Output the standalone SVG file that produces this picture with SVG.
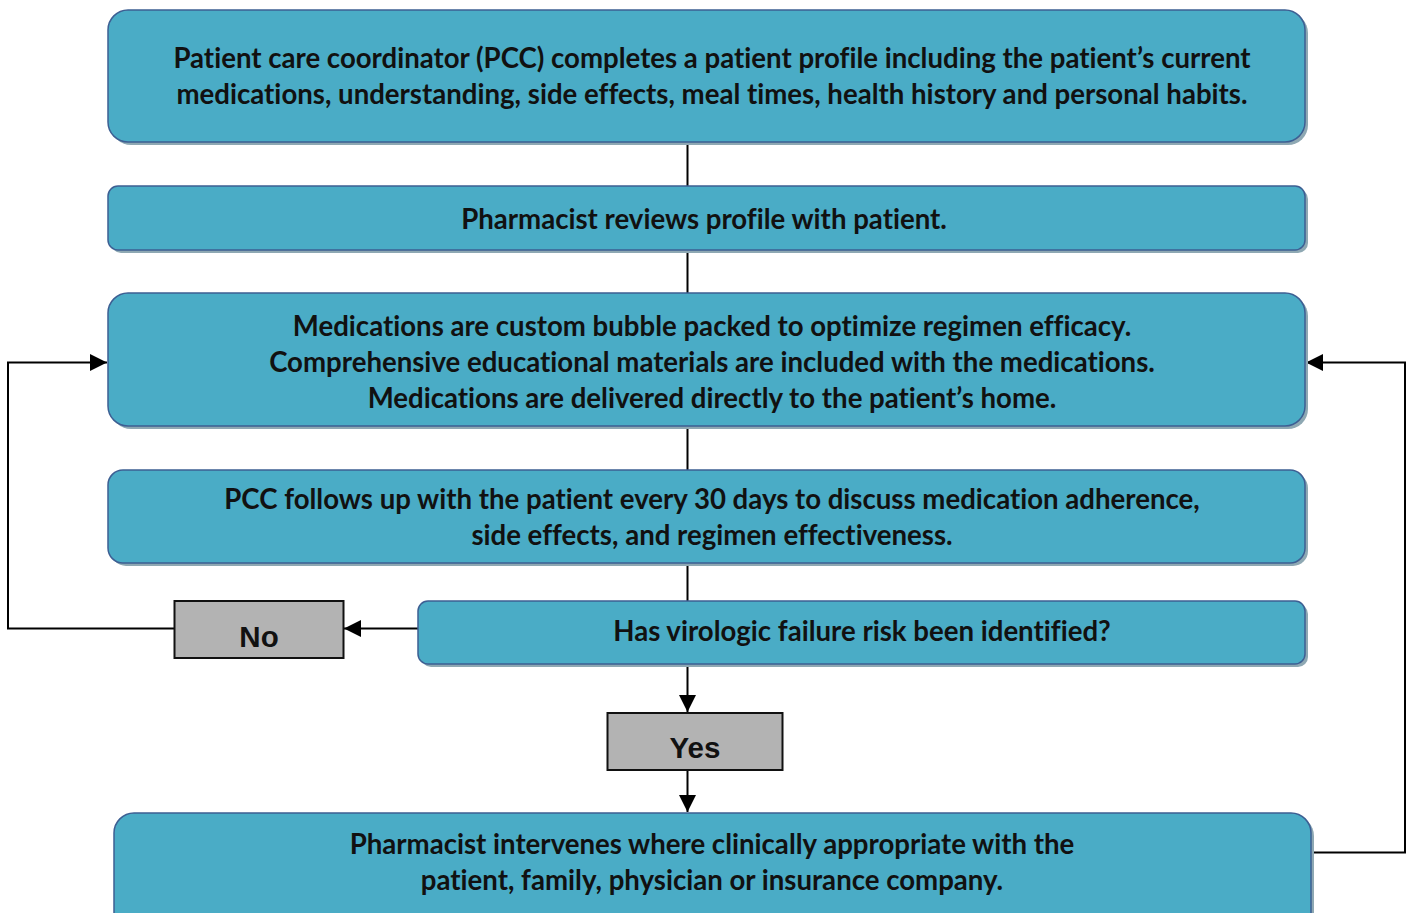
<svg xmlns="http://www.w3.org/2000/svg" width="1409" height="913" viewBox="0 0 1409 913">
<defs>
<style>
.box{fill:#4aacc6;stroke:#3d5f93;stroke-width:1.5}
.sh{fill:#8ea8b3}
.gray{fill:#b3b3b3;stroke:#111;stroke-width:2}
.t{font-family:Lato,"Liberation Sans",sans-serif;font-weight:bold;font-size:27.6px;fill:#111;text-anchor:middle;font-variant-ligatures:none}
.a{font-family:"Liberation Sans",Arial,sans-serif;font-weight:bold;font-size:29.5px;fill:#111;text-anchor:middle}
.c{fill:none;stroke:#000;stroke-width:2}
</style>
<marker id="ah" viewBox="0 0 10 10" refX="10" refY="5" markerWidth="17" markerHeight="17" markerUnits="userSpaceOnUse" orient="auto">
<path d="M0,0 L10,5 L0,10 z" fill="#000"/>
</marker>
</defs>
<rect width="1409" height="913" fill="#fff"/>
<g id="connectors">
<line class="c" x1="687.5" y1="142" x2="687.5" y2="186"/>
<line class="c" x1="687.5" y1="250" x2="687.5" y2="293"/>
<line class="c" x1="687.5" y1="426" x2="687.5" y2="470"/>
<line class="c" x1="687.5" y1="563" x2="687.5" y2="601"/>
<line class="c" x1="687.5" y1="664" x2="687.5" y2="712" marker-end="url(#ah)"/>
<line class="c" x1="687.5" y1="770" x2="687.5" y2="812" marker-end="url(#ah)"/>
<line class="c" x1="418" y1="628.5" x2="344" y2="628.5" marker-end="url(#ah)"/>
<polyline class="c" points="174,628.5 8,628.5 8,362.5 107,362.5" marker-end="url(#ah)"/>
<polyline class="c" points="1311,852.5 1405,852.5 1405,362.5 1306,362.5" marker-end="url(#ah)"/>
</g>
<g id="n1">
<rect class="sh" x="111" y="13" width="1197" height="132" rx="20"/>
<rect class="box" x="108" y="10" width="1197" height="132" rx="20"/>
<text class="t" x="712" y="68">Patient care coordinator (PCC) completes a patient profile including the patient’s current</text>
<text class="t" x="712" y="104">medications, understanding, side effects, meal times, health history and personal habits.</text>
</g>
<g id="n2">
<rect class="sh" x="111" y="189" width="1197" height="64" rx="10"/>
<rect class="box" x="108" y="186" width="1197" height="64" rx="10"/>
<text class="t" x="704" y="229">Pharmacist reviews profile with patient.</text>
</g>
<g id="n3">
<rect class="sh" x="111" y="296" width="1197" height="133" rx="20"/>
<rect class="box" x="108" y="293" width="1197" height="133" rx="20"/>
<text class="t" x="712" y="336">Medications are custom bubble packed to optimize regimen efficacy.</text>
<text class="t" x="712" y="372">Comprehensive educational materials are included with the medications.</text>
<text class="t" x="712" y="408">Medications are delivered directly to the patient’s home.</text>
</g>
<g id="n4">
<rect class="sh" x="111" y="473" width="1197" height="93" rx="15"/>
<rect class="box" x="108" y="470" width="1197" height="93" rx="15"/>
<text class="t" x="712" y="509">PCC follows up with the patient every 30 days to discuss medication adherence,</text>
<text class="t" x="712" y="545">side effects, and regimen effectiveness.</text>
</g>
<g id="n5">
<rect class="sh" x="421" y="604" width="887" height="63" rx="10"/>
<rect class="box" x="418" y="601" width="887" height="63" rx="10"/>
<text class="t" x="862" y="641">Has virologic failure risk been identified?</text>
</g>
<g id="no">
<rect class="gray" x="174.5" y="601" width="169" height="57"/>
<text class="a" x="259" y="647">No</text>
</g>
<g id="yes">
<rect class="gray" x="607.5" y="713" width="175" height="57"/>
<text class="a" x="695" y="758">Yes</text>
</g>
<g id="n6">
<rect class="sh" x="117" y="816" width="1197" height="120" rx="20"/>
<rect class="box" x="114" y="813" width="1197" height="120" rx="20"/>
<text class="t" x="712" y="854">Pharmacist intervenes where clinically appropriate with the</text>
<text class="t" x="712" y="890">patient, family, physician or insurance company.</text>
</g>
</svg>
